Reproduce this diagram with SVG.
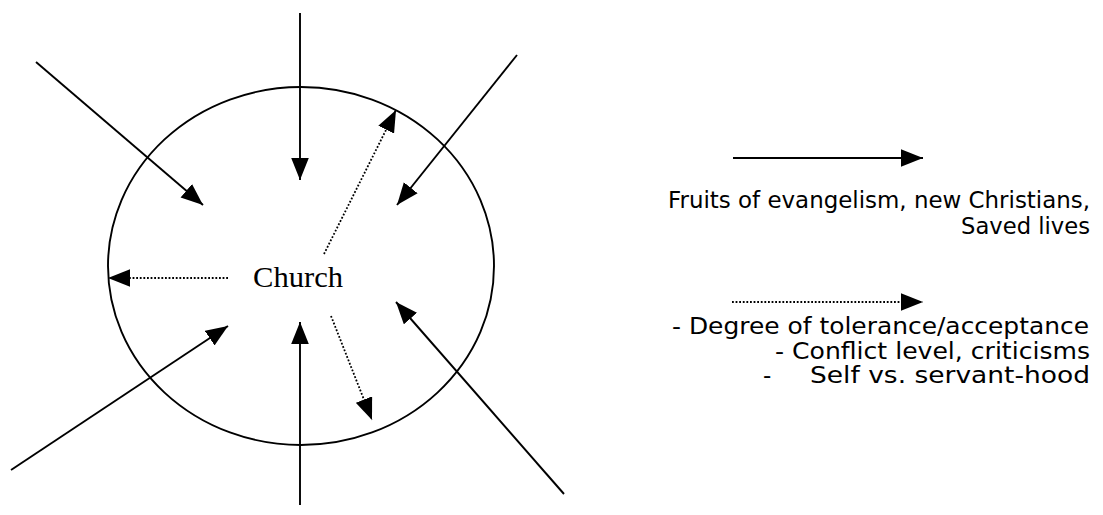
<svg xmlns="http://www.w3.org/2000/svg" width="1103" height="515" viewBox="0 0 1103 515">
<style>
.solid{stroke:#000;stroke-width:1.9;fill:none;marker-end:url(#ah)}
.dot{stroke:#000;stroke-width:1.8;fill:none;stroke-dasharray:1.8 1.8;marker-end:url(#ah)}
.leg{font-family:"DejaVu Sans",sans-serif;font-size:23px;fill:#000}
.church{font-family:"Liberation Serif",serif;font-size:30px;fill:#000}
</style>
<defs>
<marker id="ah" markerUnits="userSpaceOnUse" markerWidth="22" markerHeight="18" viewBox="0 0 20 16" refX="20" refY="8" orient="auto">
<path d="M0,0 L20,8 L0,16 Z" fill="#000"/>
</marker>
</defs>
<rect width="1103" height="515" fill="#fff"/>
<g id="church">
<ellipse cx="301" cy="266" rx="193" ry="179" fill="none" stroke="#000" stroke-width="1.9"/>
<text class="church" x="253" y="287" textLength="90" lengthAdjust="spacingAndGlyphs">Church</text>
</g>
<g id="connectors">
<line class="solid" x1="300" y1="13" x2="300" y2="180"/>
<line class="solid" x1="300" y1="505" x2="300" y2="322"/>
<line class="solid" x1="36" y1="62" x2="203" y2="205"/>
<line class="solid" x1="517" y1="55" x2="397" y2="205"/>
<line class="solid" x1="11" y1="470" x2="228" y2="326"/>
<line class="solid" x1="564" y1="494" x2="396" y2="302"/>
<line class="dot" x1="228" y1="278" x2="108" y2="278"/>
<line class="dot" x1="324" y1="254" x2="396" y2="110"/>
<line class="dot" x1="331" y1="316" x2="372" y2="420"/>
</g>
<g id="legend-solid">
<line class="solid" x1="733" y1="158" x2="923" y2="158"/>
<text class="leg" x="1090" y="208" text-anchor="end" textLength="422" lengthAdjust="spacingAndGlyphs">Fruits of evangelism, new Christians,</text>
<text class="leg" x="1090" y="234" text-anchor="end" textLength="129" lengthAdjust="spacingAndGlyphs">Saved lives</text>
</g>
<g id="legend-dotted">
<line class="dot" x1="732" y1="302" x2="923" y2="302"/>
<text class="leg" x="1089" y="334" text-anchor="end" textLength="417" lengthAdjust="spacingAndGlyphs">- Degree of tolerance/acceptance</text>
<text class="leg" x="1090" y="359" text-anchor="end" textLength="315" lengthAdjust="spacingAndGlyphs">- Conflict level, criticisms</text>
<text class="leg" x="763" y="383">-</text>
<text class="leg" x="1090" y="383" text-anchor="end" textLength="280" lengthAdjust="spacingAndGlyphs">Self vs. servant-hood</text>
</g>
</svg>
